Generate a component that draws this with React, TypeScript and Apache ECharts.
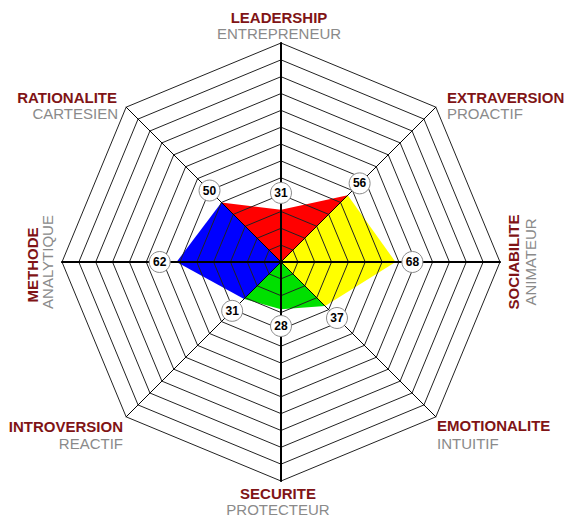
import React, { useEffect, useRef } from 'react';
import * as echarts from 'echarts';

// Axes in radar order (counter-clockwise, starting at the top)
const CATEGORIES = ['LEADERSHIP', 'RATIONALITE', 'METHODE', 'INTROVERSION', 'SECURITE', 'EMOTIONALITE', 'SOCIABILITE', 'EXTRAVERSION'];
const SUBTITLES = ['ENTREPRENEUR', 'CARTESIEN', 'ANALYTIQUE', 'REACTIF', 'PROTECTEUR', 'INTUITIF', 'ANIMATEUR', 'PROACTIF'];
const VALUES = [31, 50, 62, 31, 28, 37, 68, 56];
const AXIS_MAX = 130;
const SPLITS = 13;
// Coloured sectors: each spans three consecutive axes (indices into CATEGORIES)
const SECTOR_COLORS = ['#ff0000', '#0000ff', '#00e000', '#ffff00'];
const SECTOR_AXES = [[7, 0, 1], [1, 2, 3], [3, 4, 5], [5, 6, 7]];
const LABEL_GAP = 10; // value-badges sit this many units beyond their point

// Layout (pixels)
const CX = 281;
const CY = 262;
const R = 219;
const NAME_LAYOUT = [
  { x: 279, y: 17, sx: 279, sy: 33, align: 'center', rot: 0 },
  { x: 117, y: 97, sx: 118, sy: 113, align: 'right', rot: 0 },
  { x: 32, y: 265, sx: 47, sy: 262, align: 'center', rot: 90 },
  { x: 123, y: 426, sx: 123, sy: 443, align: 'right', rot: 0 },
  { x: 278, y: 493, sx: 278, sy: 509, align: 'center', rot: 0 },
  { x: 437, y: 425, sx: 437, sy: 443, align: 'left', rot: 0 },
  { x: 513, y: 262, sx: 530, sy: 262, align: 'center', rot: 90 },
  { x: 447, y: 97, sx: 447, sy: 113, align: 'left', rot: 0 },
];
const FONT = '"Liberation Sans", Arial, Helvetica, sans-serif';

function textEl(text: string, x: number, y: number, align: string, rot: number, bold: boolean) {
  return {
    type: 'text',
    x,
    y,
    rotation: (rot * Math.PI) / 180,
    silent: true,
    z: 20,
    style: {
      text,
      fill: bold ? '#7f1416' : '#8a8a8a',
      fontFamily: FONT,
      fontSize: 15,
      fontWeight: bold ? 'bold' : 'normal',
      align,
      textAlign: align,
      verticalAlign: 'middle',
      textVerticalAlign: 'middle',
    },
  };
}

export default function App() {
  const ref = useRef<HTMLDivElement>(null);
  useEffect(() => {
    if (!ref.current) return;
    const chart = echarts.init(ref.current, undefined, { renderer: 'svg' });

    const graphics: any[] = [];
    CATEGORIES.forEach((name, i) => {
      const l = NAME_LAYOUT[i];
      graphics.push(textEl(name, l.x, l.y, l.align, l.rot, true));
      graphics.push(textEl(SUBTITLES[i], l.sx, l.sy, l.align, l.rot, false));
    });

    const fillSeries = SECTOR_AXES.map((axes, k) => ({
      type: 'radar',
      radarIndex: 0,
      z: 2,
      silent: true,
      symbol: 'none',
      lineStyle: { width: 0, opacity: 0 },
      areaStyle: { color: SECTOR_COLORS[k], opacity: 1 },
      data: [{ value: VALUES.map((v, i) => (axes.includes(i) ? v : 0)) }],
    }));

    const labelSeries = {
      type: 'radar',
      radarIndex: 0,
      z: 10,
      silent: true,
      symbol: 'circle',
      symbolSize: 21,
      lineStyle: { width: 0, opacity: 0 },
      itemStyle: { color: '#ffffff', borderColor: '#8a8a8a', borderWidth: 1 },
      label: {
        show: true,
        position: 'inside',
        color: '#000',
        fontWeight: 'bold',
        fontSize: 12,
        fontFamily: FONT,
        formatter: (p: any) => String(p.value - LABEL_GAP),
      },
      data: [{ value: VALUES.map((v) => v + LABEL_GAP) }],
    };

    chart.setOption({
      animation: false,
      backgroundColor: '#ffffff',
      radar: [
        {
          center: [CX, CY],
          radius: R,
          startAngle: 90,
          shape: 'polygon',
          splitNumber: SPLITS,
          z: 5,
          indicator: CATEGORIES.map((name) => ({ name, min: 0, max: AXIS_MAX })),
          axisName: { show: false },
          splitLine: { lineStyle: { color: '#222', width: 1 } },
          splitArea: { show: false },
          axisLine: { lineStyle: { color: '#000', width: 1 } },
        },
        {
          center: [CX, CY],
          radius: R,
          startAngle: 90,
          shape: 'polygon',
          splitNumber: 1,
          z: 6,
          indicator: [0, 2, 4, 6].map((i) => ({ name: CATEGORIES[i], min: 0, max: AXIS_MAX })),
          axisName: { show: false },
          splitLine: { show: false },
          splitArea: { show: false },
          axisLine: { lineStyle: { color: '#000', width: 2 } },
        },
      ],
      graphic: graphics,
      series: [...fillSeries, labelSeries],
    });
    return () => chart.dispose();
  }, []);
  return (
    <div
      ref={ref}
      style={{ position: 'absolute', left: 0, top: 0, width: 571, height: 517, background: '#fff' }}
    />
  );
}
